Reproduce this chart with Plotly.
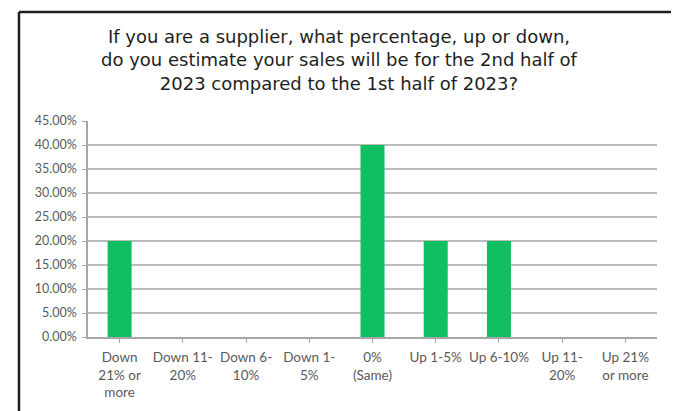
import plotly.graph_objects as go

categories = ["Down<br>21% or<br>more", "Down 11-<br>20%", "Down 6-<br>10%", "Down 1-<br>5%",
              "0%<br>(Same)", "Up 1-5%", "Up 6-10%", "Up 11-<br>20%", "Up 21%<br>or more"]
values = [0.20, 0.0, 0.0, 0.0, 0.40, 0.20, 0.20, 0.0, 0.0]
y_ticks = [0.0, 0.05, 0.10, 0.15, 0.20, 0.25, 0.30, 0.35, 0.40, 0.45]
title_lines = ["If you are a supplier, what percentage, up or down,",
               "do you estimate your sales will be for the 2nd half of",
               "2023 compared to the 1st half of 2023?"]

x_idx = list(range(len(categories)))

fig = go.Figure(go.Bar(x=x_idx, y=values, marker=dict(color="#0fbf62", line=dict(width=0)),
                       width=0.38))

fig.update_layout(
    width=679, height=411,
    margin=dict(l=80, r=30, t=113, b=82),
    paper_bgcolor="white", plot_bgcolor="white",
    showlegend=False,
    font=dict(family="Lato", size=12.5, color="#5a5a5a"),
)
fig.add_annotation(text="<br>".join(title_lines), xref="paper", yref="paper",
                   x=0.442, y=1.282, xanchor="center", yanchor="middle", align="center",
                   showarrow=False,
                   font=dict(family="DejaVu Sans", size=18, color="#1e1e1e"))

fig.update_xaxes(
    tickmode="array", tickvals=x_idx, ticktext=categories,
    range=[-0.5, len(categories) - 0.5], automargin=False,
    showline=True, linecolor="#a6a6a6", linewidth=1.5,
    ticks="outside", tickson="boundaries", ticklen=4, tickcolor="#a6a6a6",
    showgrid=False, tickangle=0, ticklabelstandoff=3,
    tickfont=dict(family="Lato", size=13.5, color="#5a5a5a"),
)
fig.update_yaxes(
    range=[0, 0.45], tickmode="array", tickvals=y_ticks, tickformat=".2%", automargin=False,
    showline=True, linecolor="#a6a6a6", linewidth=1.5,
    ticks="outside", ticklen=4, tickcolor="#a6a6a6", ticklabelstandoff=3,
    showgrid=True, gridcolor="#bdbdbd", gridwidth=1.5, zeroline=False,
)
# picture frame (top and left edges)
fig.add_shape(type="line", xref="paper", yref="paper", x0=-0.1213, x1=1.032, y0=1.5046, y1=1.5046,
              line=dict(color="#1e1e1e", width=2.5))
fig.add_shape(type="line", xref="paper", yref="paper", x0=-0.1213, x1=-0.1213, y0=1.5046, y1=-0.4,
              line=dict(color="#1e1e1e", width=2.5))

fig.write_html("out.html")
